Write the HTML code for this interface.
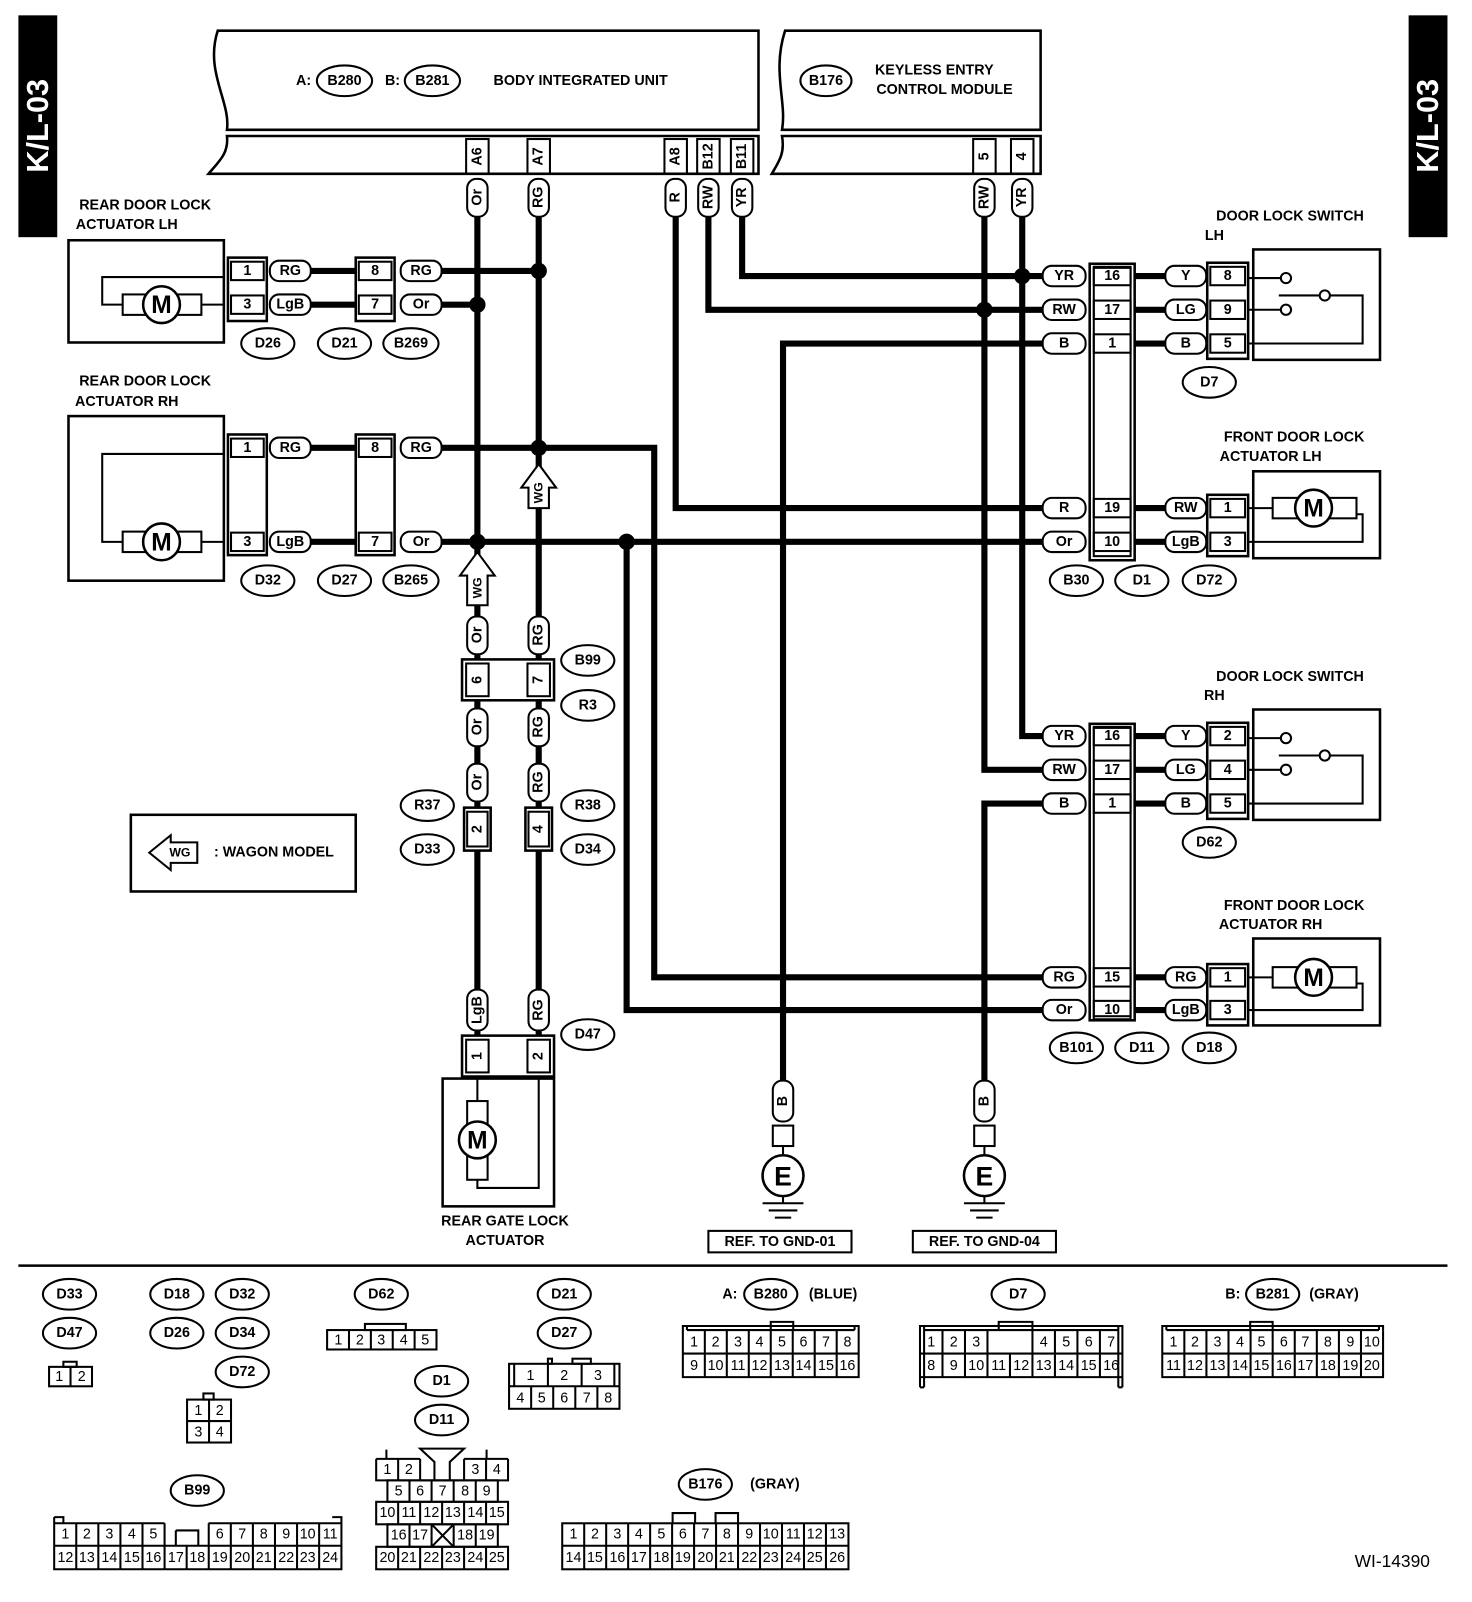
<!DOCTYPE html>
<html><head><meta charset="utf-8"><style>
html,body{margin:0;padding:0;background:#fff}
svg{display:block}
text{font-family:"Liberation Sans",Arial,sans-serif;font-weight:bold;font-size:14px;text-anchor:middle;dominant-baseline:central;fill:#000}
.n{font-weight:normal;font-size:14px}
.p{fill:#fff;stroke:#000;stroke-width:2}
.b{fill:none;stroke:#000;stroke-width:2}
.w{fill:none;stroke:#000;stroke-width:6}
.l{fill:none;stroke:#000;stroke-width:2.5}
[fill="#fff"]{fill:#fff}
</style></head><body>
<svg width="1472" height="1602" viewBox="0 0 1440 1567" preserveAspectRatio="none" xmlns="http://www.w3.org/2000/svg">
<rect x="18" y="15" width="38" height="217" fill="#000"/>
<text transform="rotate(-90 37 123)" x="37" y="123" style="fill:#fff;font-size:30px">K/L-03</text>
<rect x="1378" y="15" width="38" height="217" fill="#000"/>
<text transform="rotate(-90 1397 123)" x="1397" y="123" style="fill:#fff;font-size:30px">K/L-03</text>

<g class="w">
<path d="M467,212 V1015"/><path d="M527,212 V1015"/>
<path d="M661,212 V497 H1020"/><path d="M693,212 V303 H1020"/><path d="M726,212 V270 H1020"/>
<path d="M963,212 V753 H1020"/><path d="M1000,212 V720 H1020"/>
<path d="M304,265 H347"/><path d="M432,265 H527"/><path d="M304,298 H347"/><path d="M432,298 H467"/>
<path d="M304,438 H347"/><path d="M432,438 H640 V956 H1020"/><path d="M304,530 H347"/><path d="M432,530 H1020"/>
<path d="M613,530 V988 H1020"/>
<path d="M1020,336 H766 V1057"/><path d="M1020,786 H963 V1057"/>
<path d="M1110,270 H1140 M1110,303 H1140 M1110,336 H1140 M1110,497 H1140 M1110,530 H1140"/>
<path d="M1110,720 H1140 M1110,753 H1140 M1110,786 H1140 M1110,956 H1140 M1110,988 H1140"/>
</g>
<g>
<circle cx="527" cy="265" r="8"/><circle cx="467" cy="298" r="8"/><circle cx="527" cy="438" r="8"/>
<circle cx="467" cy="530" r="8"/><circle cx="613" cy="530" r="8"/><circle cx="1000" cy="270" r="8"/><circle cx="963" cy="303" r="8"/>
</g>

<path class="l" d="M213,30 H742 V127 H222 C226,100 200,70 213,30 Z" fill="#fff"/>
<path class="l" d="M222,133 H742 V170 H204 C214,158 224,150 222,133 Z" fill="#fff"/>
<text x="297" y="79">A:</text><ellipse class="p" cx="337" cy="79" rx="27" ry="15"/><text x="337" y="79">B280</text>
<text x="384" y="79">B:</text><ellipse class="p" cx="423" cy="79" rx="27" ry="15"/><text x="423" y="79">B281</text>
<text x="568" y="79">BODY INTEGRATED UNIT</text>
<path class="l" d="M768,30 H1018 V127 H765 C770,100 755,70 768,30 Z" fill="#fff"/>
<path class="l" d="M765,133 H1018 V170 H755 C762,158 768,150 765,133 Z" fill="#fff"/>
<ellipse class="p" cx="808" cy="79" rx="25" ry="15"/><text x="808" y="79">B176</text>
<text x="914" y="69">KEYLESS ENTRY</text><text x="924" y="88">CONTROL MODULE</text>

<g>
<rect class="b" x="456" y="136" width="22" height="34"/><text transform="rotate(-90 467 153)" x="467" y="153">A6</text>
<rect class="b" x="516" y="136" width="22" height="34"/><text transform="rotate(-90 527 153)" x="527" y="153">A7</text>
<rect class="b" x="650" y="136" width="22" height="34"/><text transform="rotate(-90 661 153)" x="661" y="153">A8</text>
<rect class="b" x="682" y="136" width="22" height="34"/><text transform="rotate(-90 693 153)" x="693" y="153">B12</text>
<rect class="b" x="715" y="136" width="22" height="34"/><text transform="rotate(-90 726 153)" x="726" y="153">B11</text>
<rect class="b" x="952" y="136" width="22" height="34"/><text transform="rotate(-90 963 153)" x="963" y="153">5</text>
<rect class="b" x="989" y="136" width="22" height="34"/><text transform="rotate(-90 1000 153)" x="1000" y="153">4</text>
<rect class="p" x="457" y="175" width="20" height="37" rx="9"/><text transform="rotate(-90 467 193)" x="467" y="193">Or</text>
<rect class="p" x="517" y="175" width="20" height="37" rx="9"/><text transform="rotate(-90 527 193)" x="527" y="193">RG</text>
<rect class="p" x="651" y="175" width="20" height="37" rx="9"/><text transform="rotate(-90 661 193)" x="661" y="193">R</text>
<rect class="p" x="683" y="175" width="20" height="37" rx="9"/><text transform="rotate(-90 693 193)" x="693" y="193">RW</text>
<rect class="p" x="716" y="175" width="20" height="37" rx="9"/><text transform="rotate(-90 726 193)" x="726" y="193">YR</text>
<rect class="p" x="953" y="175" width="20" height="37" rx="9"/><text transform="rotate(-90 963 193)" x="963" y="193">RW</text>
<rect class="p" x="990" y="175" width="20" height="37" rx="9"/><text transform="rotate(-90 1000 193)" x="1000" y="193">YR</text>
</g>

<text x="142" y="201">REAR DOOR LOCK</text>
<text x="124" y="220">ACTUATOR LH</text>
<rect class="l" x="67" y="235" width="152" height="100" fill="#fff"/>
<path class="b" d="M219,271 H100 V298 H120 M197,298 H219"/>
<rect class="b" x="120" y="288" width="77" height="20" fill="#fff"/><circle class="l" cx="158" cy="298" r="18" fill="#fff"/><text x="158" y="299" style="font-size:24px">M</text>
<rect class="l" x="223" y="252" width="38" height="62" fill="#fff"/>
<rect class="b" x="226" y="256" width="32" height="18"/><text x="242" y="265">1</text>
<rect class="b" x="226" y="289" width="32" height="18"/><text x="242" y="298">3</text>
<rect class="l" x="348" y="252" width="38" height="62" fill="#fff"/>
<rect class="b" x="351" y="256" width="32" height="18"/><text x="367" y="265">8</text>
<rect class="b" x="351" y="289" width="32" height="18"/><text x="367" y="298">7</text>
<rect class="p" x="264" y="255" width="40" height="20" rx="9"/><text x="284" y="265">RG</text>
<rect class="p" x="264" y="288" width="40" height="20" rx="9"/><text x="284" y="298">LgB</text>
<rect class="p" x="392" y="255" width="40" height="20" rx="9"/><text x="412" y="265">RG</text>
<rect class="p" x="392" y="288" width="40" height="20" rx="9"/><text x="412" y="298">Or</text>
<ellipse class="p" cx="262" cy="336" rx="26" ry="15"/><text x="262" y="336">D26</text>
<ellipse class="p" cx="337" cy="336" rx="26" ry="15"/><text x="337" y="336">D21</text>
<ellipse class="p" cx="402" cy="336" rx="27" ry="15"/><text x="402" y="336">B269</text>

<text x="142" y="373">REAR DOOR LOCK</text>
<text x="124" y="393">ACTUATOR RH</text>
<rect class="l" x="67" y="407" width="152" height="161" fill="#fff"/>
<path class="b" d="M219,444 H100 V530 H120 M197,530 H219"/>
<rect class="b" x="120" y="520" width="77" height="20" fill="#fff"/><circle class="l" cx="158" cy="530" r="18" fill="#fff"/><text x="158" y="531" style="font-size:24px">M</text>
<rect class="l" x="223" y="425" width="38" height="118" fill="#fff"/>
<rect class="b" x="226" y="429" width="32" height="18"/><text x="242" y="438">1</text>
<rect class="b" x="226" y="521" width="32" height="18"/><text x="242" y="530">3</text>
<rect class="l" x="348" y="425" width="38" height="118" fill="#fff"/>
<rect class="b" x="351" y="429" width="32" height="18"/><text x="367" y="438">8</text>
<rect class="b" x="351" y="521" width="32" height="18"/><text x="367" y="530">7</text>
<rect class="p" x="264" y="428" width="40" height="20" rx="9"/><text x="284" y="438">RG</text>
<rect class="p" x="264" y="520" width="40" height="20" rx="9"/><text x="284" y="530">LgB</text>
<rect class="p" x="392" y="428" width="40" height="20" rx="9"/><text x="412" y="438">RG</text>
<rect class="p" x="392" y="520" width="40" height="20" rx="9"/><text x="412" y="530">Or</text>
<ellipse class="p" cx="262" cy="568" rx="26" ry="15"/><text x="262" y="568">D32</text>
<ellipse class="p" cx="337" cy="568" rx="26" ry="15"/><text x="337" y="568">D27</text>
<ellipse class="p" cx="402" cy="568" rx="27" ry="15"/><text x="402" y="568">B265</text>

<polygon class="p" points="467,540 450,563 457,563 457,592 477,592 477,563 484,563"/><text transform="rotate(-90 467 575)" x="467" y="575" style="font-size:12px">WG</text>
<polygon class="p" points="527,454 510,477 517,477 517,497 537,497 537,477 544,477"/><text transform="rotate(-90 527 482)" x="527" y="482" style="font-size:12px">WG</text>

<rect class="p" x="457" y="603" width="20" height="37" rx="9"/><text transform="rotate(-90 467 621)" x="467" y="621">Or</text>
<rect class="p" x="517" y="603" width="20" height="37" rx="9"/><text transform="rotate(-90 527 621)" x="527" y="621">RG</text>
<rect class="l" x="452" y="645" width="90" height="40" fill="#fff"/>
<rect class="b" x="456" y="649" width="22" height="32"/><text transform="rotate(-90 467 665)" x="467" y="665">6</text>
<rect class="b" x="516" y="649" width="22" height="32"/><text transform="rotate(-90 527 665)" x="527" y="665">7</text>
<rect class="p" x="457" y="693" width="20" height="37" rx="9"/><text transform="rotate(-90 467 711)" x="467" y="711">Or</text>
<rect class="p" x="517" y="693" width="20" height="37" rx="9"/><text transform="rotate(-90 527 711)" x="527" y="711">RG</text>
<rect class="p" x="457" y="747" width="20" height="37" rx="9"/><text transform="rotate(-90 467 765)" x="467" y="765">Or</text>
<rect class="p" x="517" y="747" width="20" height="37" rx="9"/><text transform="rotate(-90 527 765)" x="527" y="765">RG</text>
<rect class="l" x="454" y="790" width="26" height="42" fill="#fff"/><rect class="b" x="457" y="794" width="20" height="34"/><text transform="rotate(-90 467 811)" x="467" y="811">2</text>
<rect class="l" x="514" y="790" width="26" height="42" fill="#fff"/><rect class="b" x="517" y="794" width="20" height="34"/><text transform="rotate(-90 527 811)" x="527" y="811">4</text>
<ellipse class="p" cx="575" cy="646" rx="26" ry="15"/><text x="575" y="646">B99</text>
<ellipse class="p" cx="575" cy="690" rx="26" ry="15"/><text x="575" y="690">R3</text>
<ellipse class="p" cx="418" cy="788" rx="26" ry="15"/><text x="418" y="788">R37</text>
<ellipse class="p" cx="418" cy="831" rx="26" ry="15"/><text x="418" y="831">D33</text>
<ellipse class="p" cx="575" cy="788" rx="26" ry="15"/><text x="575" y="788">R38</text>
<ellipse class="p" cx="575" cy="831" rx="26" ry="15"/><text x="575" y="831">D34</text>
<rect class="p" x="457" y="968" width="20" height="40" rx="9"/><text transform="rotate(-90 467 988)" x="467" y="988">LgB</text>
<rect class="p" x="517" y="968" width="20" height="40" rx="9"/><text transform="rotate(-90 527 988)" x="527" y="988">RG</text>
<rect class="l" x="452" y="1013" width="90" height="40" fill="#fff"/>
<rect class="b" x="456" y="1017" width="22" height="32"/><text transform="rotate(-90 467 1033)" x="467" y="1033">1</text>
<rect class="b" x="516" y="1017" width="22" height="32"/><text transform="rotate(-90 527 1033)" x="527" y="1033">2</text>
<ellipse class="p" cx="575" cy="1012" rx="26" ry="15"/><text x="575" y="1012">D47</text>
<rect class="l" x="433" y="1055" width="109" height="125" fill="#fff"/>
<path class="b" d="M467,1053 V1077 M467,1154 V1162 H527 V1053"/>
<rect class="b" x="457" y="1077" width="20" height="77" fill="#fff"/><circle class="l" cx="467" cy="1115" r="18" fill="#fff"/><text x="467" y="1116" style="font-size:24px">M</text>
<text x="494" y="1195">REAR GATE LOCK</text><text x="494" y="1214">ACTUATOR</text>

<rect class="l" x="128" y="797" width="220" height="75" fill="#fff"/>
<polygon class="p" points="146,834 167,817 167,824 193,824 193,844 167,844 167,851"/><text x="176" y="834" style="font-size:12px">WG</text>
<text x="268" y="834">: WAGON MODEL</text>

<g>
<rect class="p" x="756" y="1057" width="20" height="40" rx="9"/><text transform="rotate(-90 766 1077)" x="766" y="1077">B</text>
<rect class="b" x="756" y="1101" width="20" height="20" fill="#fff"/><path class="b" d="M766,1121 V1130"/>
<circle class="l" cx="766" cy="1150" r="20" fill="#fff"/><text x="766" y="1151" style="font-size:26px">E</text>
<path class="b" d="M766,1170 V1176 M746,1177 H786 M752,1184 H780 M758,1191 H774"/>
<rect class="b" x="693" y="1204" width="140" height="21"/><text x="763" y="1215">REF. TO GND-01</text>
<rect class="p" x="953" y="1057" width="20" height="40" rx="9"/><text transform="rotate(-90 963 1077)" x="963" y="1077">B</text>
<rect class="b" x="953" y="1101" width="20" height="20" fill="#fff"/><path class="b" d="M963,1121 V1130"/>
<circle class="l" cx="963" cy="1150" r="20" fill="#fff"/><text x="963" y="1151" style="font-size:26px">E</text>
<path class="b" d="M963,1170 V1176 M943,1177 H983 M949,1184 H977 M955,1191 H971"/>
<rect class="b" x="893" y="1204" width="140" height="21"/><text x="963" y="1215">REF. TO GND-04</text>
</g>

<g>
<rect class="p" x="1020" y="260" width="42" height="20" rx="9"/><text x="1041" y="270">YR</text>
<rect class="p" x="1020" y="293" width="42" height="20" rx="9"/><text x="1041" y="303">RW</text>
<rect class="p" x="1020" y="326" width="42" height="20" rx="9"/><text x="1041" y="336">B</text>
<rect class="p" x="1020" y="487" width="42" height="20" rx="9"/><text x="1041" y="497">R</text>
<rect class="p" x="1020" y="520" width="42" height="20" rx="9"/><text x="1041" y="530">Or</text>
<rect class="p" x="1020" y="710" width="42" height="20" rx="9"/><text x="1041" y="720">YR</text>
<rect class="p" x="1020" y="743" width="42" height="20" rx="9"/><text x="1041" y="753">RW</text>
<rect class="p" x="1020" y="776" width="42" height="20" rx="9"/><text x="1041" y="786">B</text>
<rect class="p" x="1020" y="946" width="42" height="20" rx="9"/><text x="1041" y="956">RG</text>
<rect class="p" x="1020" y="978" width="42" height="20" rx="9"/><text x="1041" y="988">Or</text>
<rect class="l" x="1066" y="258" width="44" height="290" fill="#fff"/><rect class="b" x="1070" y="262" width="36" height="282"/>
<rect class="b" x="1070" y="261" width="36" height="18"/><text x="1088" y="270">16</text>
<rect class="b" x="1070" y="294" width="36" height="18"/><text x="1088" y="303">17</text>
<rect class="b" x="1070" y="327" width="36" height="18"/><text x="1088" y="336">1</text>
<rect class="b" x="1070" y="488" width="36" height="18"/><text x="1088" y="497">19</text>
<rect class="b" x="1070" y="521" width="36" height="18"/><text x="1088" y="530">10</text>
<rect class="l" x="1066" y="708" width="44" height="290" fill="#fff"/><rect class="b" x="1070" y="712" width="36" height="282"/>
<rect class="b" x="1070" y="711" width="36" height="18"/><text x="1088" y="720">16</text>
<rect class="b" x="1070" y="744" width="36" height="18"/><text x="1088" y="753">17</text>
<rect class="b" x="1070" y="777" width="36" height="18"/><text x="1088" y="786">1</text>
<rect class="b" x="1070" y="947" width="36" height="18"/><text x="1088" y="956">15</text>
<rect class="b" x="1070" y="979" width="36" height="18"/><text x="1088" y="988">10</text>

<rect class="p" x="1140" y="260" width="40" height="20" rx="9"/><text x="1160" y="270">Y</text>
<rect class="p" x="1140" y="293" width="40" height="20" rx="9"/><text x="1160" y="303">LG</text>
<rect class="p" x="1140" y="326" width="40" height="20" rx="9"/><text x="1160" y="336">B</text>
<rect class="p" x="1140" y="487" width="40" height="20" rx="9"/><text x="1160" y="497">RW</text>
<rect class="p" x="1140" y="520" width="40" height="20" rx="9"/><text x="1160" y="530">LgB</text>
<rect class="p" x="1140" y="710" width="40" height="20" rx="9"/><text x="1160" y="720">Y</text>
<rect class="p" x="1140" y="743" width="40" height="20" rx="9"/><text x="1160" y="753">LG</text>
<rect class="p" x="1140" y="776" width="40" height="20" rx="9"/><text x="1160" y="786">B</text>
<rect class="p" x="1140" y="946" width="40" height="20" rx="9"/><text x="1160" y="956">RG</text>
<rect class="p" x="1140" y="978" width="40" height="20" rx="9"/><text x="1160" y="988">LgB</text>

<rect class="l" x="1181" y="257" width="40" height="94" fill="#fff"/>
<rect class="b" x="1184" y="261" width="34" height="18"/><text x="1201" y="270">8</text>
<rect class="b" x="1184" y="294" width="34" height="18"/><text x="1201" y="303">9</text>
<rect class="b" x="1184" y="327" width="34" height="18"/><text x="1201" y="336">5</text>
<rect class="l" x="1181" y="484" width="40" height="60" fill="#fff"/>
<rect class="b" x="1184" y="488" width="34" height="18"/><text x="1201" y="497">1</text>
<rect class="b" x="1184" y="521" width="34" height="18"/><text x="1201" y="530">3</text>
<rect class="l" x="1181" y="707" width="40" height="94" fill="#fff"/>
<rect class="b" x="1184" y="711" width="34" height="18"/><text x="1201" y="720">2</text>
<rect class="b" x="1184" y="744" width="34" height="18"/><text x="1201" y="753">4</text>
<rect class="b" x="1184" y="777" width="34" height="18"/><text x="1201" y="786">5</text>
<rect class="l" x="1181" y="943" width="40" height="60" fill="#fff"/>
<rect class="b" x="1184" y="947" width="34" height="18"/><text x="1201" y="956">1</text>
<rect class="b" x="1184" y="979" width="34" height="18"/><text x="1201" y="988">3</text>
</g>

<text x="1262" y="212">DOOR LOCK SWITCH</text><text x="1188" y="231">LH</text>
<rect class="l" x="1226" y="244" width="124" height="108" fill="#fff"/>
<path class="b" d="M1221,272 H1253 M1221,303 H1253 M1251,289 H1291 M1301,289 H1333 V336 H1221"/>
<circle class="b" cx="1258" cy="272" r="5" fill="#fff"/><circle class="b" cx="1258" cy="303" r="5" fill="#fff"/><circle class="b" cx="1296" cy="289" r="5" fill="#fff"/>
<ellipse class="p" cx="1183" cy="374" rx="26" ry="15"/><text x="1183" y="374">D7</text>

<text x="1266" y="428">FRONT DOOR LOCK</text><text x="1243" y="447">ACTUATOR LH</text>
<rect class="l" x="1226" y="461" width="124" height="85" fill="#fff"/>
<path class="b" d="M1221,497 H1245 M1327,503 H1333 V530 H1221"/>
<rect class="b" x="1245" y="487" width="82" height="20" fill="#fff"/><circle class="l" cx="1285" cy="497" r="18" fill="#fff"/><text x="1285" y="498" style="font-size:24px">M</text>
<ellipse class="p" cx="1053" cy="568" rx="26" ry="15"/><text x="1053" y="568">B30</text>
<ellipse class="p" cx="1117" cy="568" rx="26" ry="15"/><text x="1117" y="568">D1</text>
<ellipse class="p" cx="1183" cy="568" rx="26" ry="15"/><text x="1183" y="568">D72</text>

<text x="1262" y="662">DOOR LOCK SWITCH</text><text x="1188" y="681">RH</text>
<rect class="l" x="1226" y="694" width="124" height="108" fill="#fff"/>
<path class="b" d="M1221,722 H1253 M1221,753 H1253 M1251,739 H1291 M1301,739 H1333 V786 H1221"/>
<circle class="b" cx="1258" cy="722" r="5" fill="#fff"/><circle class="b" cx="1258" cy="753" r="5" fill="#fff"/><circle class="b" cx="1296" cy="739" r="5" fill="#fff"/>
<ellipse class="p" cx="1183" cy="824" rx="26" ry="15"/><text x="1183" y="824">D62</text>

<text x="1266" y="886">FRONT DOOR LOCK</text><text x="1243" y="905">ACTUATOR RH</text>
<rect class="l" x="1226" y="918" width="124" height="85" fill="#fff"/>
<path class="b" d="M1221,956 H1245 M1327,962 H1333 V988 H1221"/>
<rect class="b" x="1245" y="946" width="82" height="20" fill="#fff"/><circle class="l" cx="1285" cy="956" r="18" fill="#fff"/><text x="1285" y="957" style="font-size:24px">M</text>
<ellipse class="p" cx="1053" cy="1025" rx="26" ry="15"/><text x="1053" y="1025">B101</text>
<ellipse class="p" cx="1117" cy="1025" rx="26" ry="15"/><text x="1117" y="1025">D11</text>
<ellipse class="p" cx="1183" cy="1025" rx="26" ry="15"/><text x="1183" y="1025">D18</text>

<path d="M18,1238 H1416" stroke="#000" stroke-width="2.5"/>
<g>
<ellipse class="p" cx="68" cy="1266" rx="26" ry="15"/><text x="68" y="1266">D33</text>
<ellipse class="p" cx="68" cy="1304" rx="26" ry="15"/><text x="68" y="1304">D47</text>
<rect class="b" x="62" y="1332" width="13" height="5"/><rect class="b" x="48" y="1337" width="42" height="19"/><path class="b" d="M69,1337 V1356"/>
<text class="n" x="58" y="1347">1</text><text class="n" x="80" y="1347">2</text>

<ellipse class="p" cx="173" cy="1266" rx="26" ry="15"/><text x="173" y="1266">D18</text>
<ellipse class="p" cx="237" cy="1266" rx="26" ry="15"/><text x="237" y="1266">D32</text>
<ellipse class="p" cx="173" cy="1304" rx="26" ry="15"/><text x="173" y="1304">D26</text>
<ellipse class="p" cx="237" cy="1304" rx="26" ry="15"/><text x="237" y="1304">D34</text>
<ellipse class="p" cx="237" cy="1342" rx="26" ry="15"/><text x="237" y="1342">D72</text>
<rect class="b" x="199" y="1363" width="10" height="6"/><rect class="b" x="183" y="1369" width="43" height="42"/><path class="b" d="M204.5,1369 V1411 M183,1390 H226"/>
<text class="n" x="194" y="1380">1</text><text class="n" x="215" y="1380">2</text><text class="n" x="194" y="1401">3</text><text class="n" x="215" y="1401">4</text>

<ellipse class="p" cx="373" cy="1266" rx="26" ry="15"/><text x="373" y="1266">D62</text>
<rect class="b" x="357" y="1295" width="40" height="6"/><rect class="b" x="320" y="1301" width="107" height="19"/>
<path class="b" d="M341.4,1301 V1320 M362.8,1301 V1320 M384.2,1301 V1320 M405.6,1301 V1320"/>
<text class="n" x="331" y="1311">1</text><text class="n" x="352" y="1311">2</text><text class="n" x="373" y="1311">3</text><text class="n" x="395" y="1311">4</text><text class="n" x="416" y="1311">5</text>

<ellipse class="p" cx="552" cy="1266" rx="26" ry="15"/><text x="552" y="1266">D21</text>
<ellipse class="p" cx="552" cy="1304" rx="26" ry="15"/><text x="552" y="1304">D27</text>
<rect class="b" x="498" y="1334" width="108" height="44"/><path class="b" d="M498,1356 H606 M503,1334 V1356 M601,1334 V1356 M536,1334 V1356 M569,1334 V1356 M519.6,1356 V1378 M541.2,1356 V1378 M562.8,1356 V1378 M584.4,1356 V1378"/>
<rect class="b" x="536" y="1329" width="4" height="5"/><rect class="b" x="560" y="1329" width="18" height="5"/>
<text class="n" x="519" y="1346">1</text><text class="n" x="552" y="1346">2</text><text class="n" x="585" y="1346">3</text>
<text class="n" x="509" y="1368">4</text><text class="n" x="530" y="1368">5</text><text class="n" x="552" y="1368">6</text><text class="n" x="574" y="1368">7</text><text class="n" x="595" y="1368">8</text>

<ellipse class="p" cx="432" cy="1351" rx="26" ry="15"/><text x="432" y="1351">D1</text>
<ellipse class="p" cx="432" cy="1389" rx="26" ry="15"/><text x="432" y="1389">D11</text>
<path class="b" d="M368,1427 H411 M454,1427 H497 M368,1427 V1448 H497 V1427 M389.5,1427 V1448 M475.5,1427 V1448 M411,1427 V1448 M454,1427 V1448"/>
<path class="b" d="M411,1417 H454 L440,1430 V1448 H425 V1430 Z M378,1418 V1427 M476,1418 V1427" fill="#fff"/>
<rect class="b" x="379" y="1448" width="108" height="21"/><path class="b" d="M400.6,1448 V1469 M422.2,1448 V1469 M443.8,1448 V1469 M465.4,1448 V1469"/>
<rect class="b" x="368" y="1469" width="129" height="22"/><path class="b" d="M389.5,1469 V1491 M411,1469 V1491 M432.5,1469 V1491 M454,1469 V1491 M475.5,1469 V1491"/>
<rect class="b" x="379" y="1491" width="108" height="22"/><path class="b" d="M400.6,1491 V1513 M422.2,1491 V1513 M443.8,1491 V1513 M465.4,1491 V1513 M422.2,1491 L443.8,1513 M443.8,1491 L422.2,1513"/>
<rect class="b" x="368" y="1513" width="129" height="22"/><path class="b" d="M389.5,1513 V1535 M411,1513 V1535 M432.5,1513 V1535 M454,1513 V1535 M475.5,1513 V1535"/>
<text class="n" x="379" y="1438">1</text><text class="n" x="400" y="1438">2</text><text class="n" x="465" y="1438">3</text><text class="n" x="486" y="1438">4</text>
<text class="n" x="390" y="1459">5</text><text class="n" x="411" y="1459">6</text><text class="n" x="433" y="1459">7</text><text class="n" x="455" y="1459">8</text><text class="n" x="476" y="1459">9</text>
<text class="n" x="379" y="1480">10</text><text class="n" x="400" y="1480">11</text><text class="n" x="422" y="1480">12</text><text class="n" x="443" y="1480">13</text><text class="n" x="465" y="1480">14</text><text class="n" x="486" y="1480">15</text>
<text class="n" x="390" y="1502">16</text><text class="n" x="411" y="1502">17</text><text class="n" x="455" y="1502">18</text><text class="n" x="476" y="1502">19</text>
<text class="n" x="379" y="1524">20</text><text class="n" x="400" y="1524">21</text><text class="n" x="422" y="1524">22</text><text class="n" x="443" y="1524">23</text><text class="n" x="465" y="1524">24</text><text class="n" x="486" y="1524">25</text>

<ellipse class="p" cx="193" cy="1458" rx="26" ry="15"/><text x="193" y="1458">B99</text>
<path class="b" d="M53,1490 H161 M204,1490 H334 M53,1484 H62 V1490 M325,1484 H334 V1490 M53,1484 V1535 H334 V1484 M53,1512 H334 M172,1497 H194 V1512 M172,1497 V1512"/>
<path class="b" d="M74.6,1490 V1535 M96.2,1490 V1535 M117.8,1490 V1535 M139.4,1490 V1535 M161,1490 V1535 M182.6,1512 V1535 M204.2,1490 V1535 M225.8,1490 V1535 M247.4,1490 V1535 M269,1490 V1535 M290.6,1490 V1535 M312.2,1490 V1535"/>
<text class="n" x="64" y="1501">1</text><text class="n" x="85" y="1501">2</text><text class="n" x="107" y="1501">3</text><text class="n" x="129" y="1501">4</text><text class="n" x="150" y="1501">5</text>
<text class="n" x="215" y="1501">6</text><text class="n" x="237" y="1501">7</text><text class="n" x="258" y="1501">8</text><text class="n" x="280" y="1501">9</text><text class="n" x="301" y="1501">10</text><text class="n" x="323" y="1501">11</text>
<text class="n" x="64" y="1524">12</text><text class="n" x="85" y="1524">13</text><text class="n" x="107" y="1524">14</text><text class="n" x="129" y="1524">15</text><text class="n" x="150" y="1524">16</text><text class="n" x="172" y="1524">17</text><text class="n" x="193" y="1524">18</text><text class="n" x="215" y="1524">19</text><text class="n" x="237" y="1524">20</text><text class="n" x="258" y="1524">21</text><text class="n" x="280" y="1524">22</text><text class="n" x="301" y="1524">23</text><text class="n" x="323" y="1524">24</text>

<ellipse class="p" cx="690" cy="1452" rx="26" ry="15"/><text x="690" y="1452">B176</text><text x="758" y="1452">(GRAY)</text>
<rect class="b" x="550" y="1490" width="280" height="45"/><path class="b" d="M550,1512 H830 M658,1490 V1480 H680 V1490 M700,1490 V1480 H722 V1490"/>
<path class="b" d="M571.5,1490 V1535 M593,1490 V1535 M614.5,1490 V1535 M636,1490 V1535 M657.5,1490 V1535 M679,1490 V1535 M700.5,1490 V1535 M722,1490 V1535 M743.5,1490 V1535 M765,1490 V1535 M786.5,1490 V1535 M808,1490 V1535"/>
<text class="n" x="561" y="1501">1</text><text class="n" x="582" y="1501">2</text><text class="n" x="604" y="1501">3</text><text class="n" x="625" y="1501">4</text><text class="n" x="647" y="1501">5</text><text class="n" x="668" y="1501">6</text><text class="n" x="690" y="1501">7</text><text class="n" x="711" y="1501">8</text><text class="n" x="733" y="1501">9</text><text class="n" x="754" y="1501">10</text><text class="n" x="776" y="1501">11</text><text class="n" x="797" y="1501">12</text><text class="n" x="819" y="1501">13</text>
<text class="n" x="561" y="1524">14</text><text class="n" x="582" y="1524">15</text><text class="n" x="604" y="1524">16</text><text class="n" x="625" y="1524">17</text><text class="n" x="647" y="1524">18</text><text class="n" x="668" y="1524">19</text><text class="n" x="690" y="1524">20</text><text class="n" x="711" y="1524">21</text><text class="n" x="733" y="1524">22</text><text class="n" x="754" y="1524">23</text><text class="n" x="776" y="1524">24</text><text class="n" x="797" y="1524">25</text><text class="n" x="819" y="1524">26</text>

<text x="714" y="1266">A:</text><ellipse class="p" cx="754" cy="1266" rx="26" ry="15"/><text x="754" y="1266">B280</text><text x="815" y="1266">(BLUE)</text>
<path class="b" d="M668,1297 H840 V1347 H668 Z M668,1324 H840 M754,1301 V1293 H776 V1301 M672,1301 H836 M672,1297 V1301 M836,1297 V1301"/>
<path class="b" d="M689.5,1301 V1347 M711,1301 V1347 M732.5,1301 V1347 M754,1301 V1347 M775.5,1301 V1347 M797,1301 V1347 M818.5,1301 V1347"/>
<text class="n" x="679" y="1313">1</text><text class="n" x="700" y="1313">2</text><text class="n" x="722" y="1313">3</text><text class="n" x="743" y="1313">4</text><text class="n" x="765" y="1313">5</text><text class="n" x="786" y="1313">6</text><text class="n" x="808" y="1313">7</text><text class="n" x="829" y="1313">8</text>
<text class="n" x="679" y="1336">9</text><text class="n" x="700" y="1336">10</text><text class="n" x="722" y="1336">11</text><text class="n" x="743" y="1336">12</text><text class="n" x="765" y="1336">13</text><text class="n" x="786" y="1336">14</text><text class="n" x="808" y="1336">15</text><text class="n" x="829" y="1336">16</text>

<ellipse class="p" cx="996" cy="1266" rx="26" ry="15"/><text x="996" y="1266">D7</text>
<path class="b" d="M900,1297 H1098 V1347 H900 Z M900,1324 H1098 M904,1301 H1094 M904,1297 V1357 M1094,1297 V1357 M900,1357 H904 M1094,1357 H1098 M900,1347 V1357 M1098,1347 V1357 M977,1301 V1293 H1010 V1301"/>
<path class="b" d="M922,1301 V1347 M944,1301 V1347 M966,1301 V1347 M988,1324 V1347 M1010,1301 V1347 M1032,1301 V1347 M1054,1301 V1347 M1076,1301 V1347"/>
<text class="n" x="911" y="1313">1</text><text class="n" x="933" y="1313">2</text><text class="n" x="955" y="1313">3</text><text class="n" x="1021" y="1313">4</text><text class="n" x="1043" y="1313">5</text><text class="n" x="1065" y="1313">6</text><text class="n" x="1087" y="1313">7</text>
<text class="n" x="911" y="1336">8</text><text class="n" x="933" y="1336">9</text><text class="n" x="955" y="1336">10</text><text class="n" x="977" y="1336">11</text><text class="n" x="999" y="1336">12</text><text class="n" x="1021" y="1336">13</text><text class="n" x="1043" y="1336">14</text><text class="n" x="1065" y="1336">15</text><text class="n" x="1087" y="1336">16</text>

<text x="1206" y="1266">B:</text><ellipse class="p" cx="1245" cy="1266" rx="26" ry="15"/><text x="1245" y="1266">B281</text><text x="1305" y="1266">(GRAY)</text>
<path class="b" d="M1137,1297 H1353 V1347 H1137 Z M1137,1324 H1353 M1141,1301 H1349 M1141,1297 V1301 M1349,1297 V1301 M1223,1301 V1293 H1245 V1301"/>
<path class="b" d="M1158.6,1301 V1347 M1180.2,1301 V1347 M1201.8,1301 V1347 M1223.4,1301 V1347 M1245,1301 V1347 M1266.6,1301 V1347 M1288.2,1301 V1347 M1309.8,1301 V1347 M1331.4,1301 V1347"/>
<text class="n" x="1148" y="1313">1</text><text class="n" x="1169" y="1313">2</text><text class="n" x="1191" y="1313">3</text><text class="n" x="1213" y="1313">4</text><text class="n" x="1234" y="1313">5</text><text class="n" x="1256" y="1313">6</text><text class="n" x="1277" y="1313">7</text><text class="n" x="1299" y="1313">8</text><text class="n" x="1321" y="1313">9</text><text class="n" x="1342" y="1313">10</text>
<text class="n" x="1148" y="1336">11</text><text class="n" x="1169" y="1336">12</text><text class="n" x="1191" y="1336">13</text><text class="n" x="1213" y="1336">14</text><text class="n" x="1234" y="1336">15</text><text class="n" x="1256" y="1336">16</text><text class="n" x="1277" y="1336">17</text><text class="n" x="1299" y="1336">18</text><text class="n" x="1321" y="1336">19</text><text class="n" x="1342" y="1336">20</text>
</g>
<text class="n" x="1362" y="1527" style="font-size:17px">WI-14390</text>
</svg>
</body></html>
